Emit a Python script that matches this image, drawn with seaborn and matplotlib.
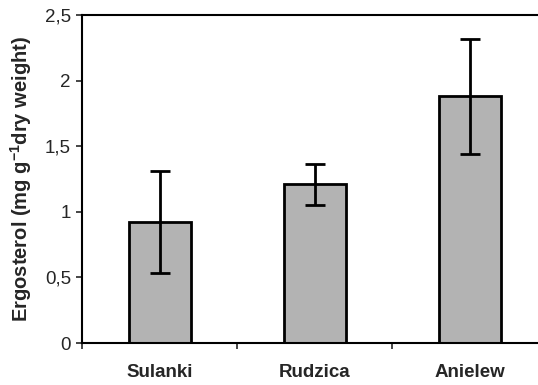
import matplotlib
matplotlib.use("Agg")
import matplotlib.pyplot as plt
import seaborn as sns
import pandas as pd

# values
sites = ["Sulanki", "Rudzica", "Anielew"]
ergosterol = [0.92, 1.21, 1.88]
sd = [0.39, 0.155, 0.44]
yticks = [0, 0.5, 1, 1.5, 2, 2.5]
ytick_labels = ["0", "0,5", "1", "1,5", "2", "2,5"]

df = pd.DataFrame({"site": sites, "ergosterol": ergosterol, "sd": sd})

sns.set_style("ticks")
plt.rcParams["font.family"] = ["Liberation Sans", "DejaVu Sans"]
plt.rcParams["mathtext.fontset"] = "custom"
plt.rcParams["mathtext.bf"] = "Liberation Sans:bold"
plt.rcParams["mathtext.rm"] = "Liberation Sans"

fig = plt.figure(figsize=(5.38, 3.85), dpi=100)
ax = fig.add_axes([82 / 538, 42 / 385, 465 / 538, 328 / 385])

sns.barplot(data=df, x="site", y="ergosterol", color="#b3b3b3", saturation=1,
            width=0.4, errorbar=None, edgecolor="black", linewidth=2, ax=ax)
ax.errorbar(range(len(sites)), df["ergosterol"], yerr=df["sd"], fmt="none",
            ecolor="black", elinewidth=2, capsize=7.5, capthick=2)

ax.set_xlim(-0.5, 2.5)
ax.set_ylim(0, 2.5)
ax.set_yticks(yticks)
ax.set_yticklabels(ytick_labels, fontsize=13.5)
ax.set_xticks(range(len(sites)))
ax.set_xticklabels(sites, fontsize=13.5, fontweight="bold")
ax.tick_params(axis="x", which="major", length=0, pad=15)
ax.set_xticks([-0.5, 0.5, 1.5], minor=True)
ax.tick_params(axis="x", which="minor", length=4, width=1.2, direction="out")
ax.tick_params(axis="y", length=4, width=1.2, direction="out", pad=4)

ax.set_xlabel("")
ax.set_ylabel(r"Ergosterol (mg g$^{\mathbf{-1}}$dry weight)", fontsize=14.5,
              fontweight="bold", labelpad=8)

for side in ["left", "bottom", "top"]:
    ax.spines[side].set_linewidth(1.5)
    ax.spines[side].set_color("black")
ax.spines["right"].set_visible(False)

fig.savefig("out.png", dpi=100)
